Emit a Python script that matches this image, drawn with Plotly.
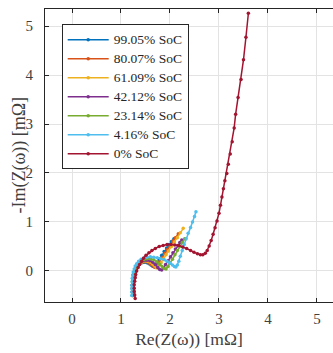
import plotly.graph_objects as go

# Nyquist spectra (Re / -Im in mOhm) at several states of charge
labels = ["99.05% SoC", "80.07% SoC", "61.09% SoC", "42.12% SoC",
          "23.14% SoC", "4.16% SoC", "0% SoC"]
colors = ["#0072BD", "#D95319", "#EDB120", "#7E2F8E", "#77AC30", "#4DBEEE", "#A2142F"]

re_9905 = [1.25, 1.25, 1.25, 1.25, 1.25, 1.26, 1.27, 1.29, 1.31, 1.34, 1.38, 1.43, 1.48, 1.53,
           1.57, 1.61, 1.64, 1.66, 1.69, 1.73, 1.78, 1.83, 1.88, 1.93, 1.98, 2.03, 2.08]
im_9905 = [-0.48, -0.41, -0.34, -0.27, -0.20, -0.13, -0.07, -0.01, 0.05, 0.10, 0.14, 0.17, 0.18, 0.17,
           0.15, 0.12, 0.10, 0.09, 0.11, 0.17, 0.24, 0.32, 0.40, 0.47, 0.54, 0.60, 0.66]

re_8007 = [1.25, 1.24, 1.24, 1.24, 1.25, 1.25, 1.26, 1.28, 1.30, 1.33, 1.37, 1.42, 1.47, 1.53,
           1.58, 1.62, 1.66, 1.68, 1.70, 1.74, 1.79, 1.84, 1.90, 1.95, 2.01, 2.06, 2.11, 2.17]
im_8007 = [-0.49, -0.42, -0.35, -0.28, -0.21, -0.14, -0.07, -0.01, 0.05, 0.10, 0.15, 0.18, 0.19, 0.19,
           0.16, 0.13, 0.10, 0.08, 0.07, 0.12, 0.19, 0.27, 0.36, 0.44, 0.53, 0.61, 0.68, 0.76]

re_6109 = [1.24, 1.24, 1.24, 1.24, 1.25, 1.25, 1.26, 1.28, 1.30, 1.33, 1.37, 1.42, 1.48, 1.54,
           1.60, 1.65, 1.69, 1.72, 1.74, 1.77, 1.82, 1.87, 1.92, 1.97, 2.03, 2.09, 2.15, 2.21, 2.27]
im_6109 = [-0.50, -0.43, -0.36, -0.29, -0.22, -0.15, -0.08, -0.02, 0.04, 0.10, 0.15, 0.18, 0.20, 0.20,
           0.18, 0.14, 0.10, 0.07, 0.06, 0.10, 0.17, 0.25, 0.33, 0.41, 0.50, 0.59, 0.68, 0.78, 0.87]

re_4212 = [1.24, 1.23, 1.23, 1.23, 1.24, 1.24, 1.25, 1.27, 1.29, 1.32, 1.36, 1.41, 1.47, 1.53,
           1.59, 1.65, 1.70, 1.75, 1.79, 1.83, 1.87, 1.91, 1.96, 2.01, 2.06, 2.11, 2.16, 2.20, 2.24]
im_4212 = [-0.50, -0.43, -0.36, -0.29, -0.22, -0.15, -0.08, -0.02, 0.04, 0.10, 0.15, 0.19, 0.21, 0.22,
           0.21, 0.18, 0.13, 0.07, 0.03, 0.02, 0.06, 0.13, 0.21, 0.29, 0.37, 0.45, 0.52, 0.58, 0.63]

re_2314 = [1.23, 1.23, 1.23, 1.23, 1.23, 1.24, 1.25, 1.27, 1.29, 1.32, 1.36, 1.41, 1.47, 1.53,
           1.60, 1.67, 1.73, 1.79, 1.84, 1.88, 1.92, 1.96, 2.00, 2.05, 2.10, 2.15, 2.20, 2.25, 2.30]
im_2314 = [-0.50, -0.43, -0.36, -0.29, -0.22, -0.15, -0.08, -0.02, 0.04, 0.10, 0.16, 0.20, 0.23, 0.25,
           0.25, 0.23, 0.19, 0.14, 0.09, 0.05, 0.04, 0.09, 0.16, 0.24, 0.33, 0.42, 0.50, 0.58, 0.66]

re_0416 = [1.22, 1.22, 1.22, 1.22, 1.23, 1.23, 1.24, 1.25, 1.27, 1.29, 1.32, 1.36, 1.41, 1.47,
           1.53, 1.60, 1.67, 1.74, 1.81, 1.88, 1.94, 2.00, 2.05, 2.09, 2.12, 2.15, 2.18, 2.21,
           2.25, 2.29, 2.33, 2.37, 2.42, 2.46, 2.50, 2.53]
im_0416 = [-0.50, -0.43, -0.36, -0.29, -0.22, -0.15, -0.08, -0.02, 0.04, 0.10, 0.15, 0.20, 0.24, 0.27,
           0.28, 0.29, 0.28, 0.27, 0.25, 0.23, 0.20, 0.16, 0.12, 0.09, 0.08, 0.12, 0.20, 0.30,
           0.42, 0.54, 0.66, 0.77, 0.89, 1.00, 1.11, 1.21]

re_0 = [1.29, 1.28, 1.27, 1.27, 1.27, 1.28, 1.29, 1.30, 1.32, 1.35, 1.38, 1.42, 1.46, 1.51,
        1.57, 1.63, 1.70, 1.78, 1.86, 1.94, 2.02, 2.10, 2.18, 2.26, 2.34, 2.42, 2.49, 2.56,
        2.62, 2.67, 2.72, 2.76, 2.80, 2.84, 2.88, 2.92, 2.96, 3.00, 3.03, 3.06, 3.09, 3.12,
        3.16, 3.19, 3.23, 3.27, 3.31, 3.34, 3.39, 3.45, 3.50, 3.55, 3.60]
im_0 = [-0.56, -0.49, -0.42, -0.35, -0.28, -0.21, -0.14, -0.07, 0.00, 0.07, 0.13, 0.20, 0.26, 0.32,
        0.37, 0.42, 0.46, 0.50, 0.52, 0.54, 0.54, 0.53, 0.52, 0.49, 0.46, 0.42, 0.38, 0.35,
        0.33, 0.33, 0.36, 0.42, 0.51, 0.62, 0.75, 0.88, 1.02, 1.18, 1.34, 1.51, 1.68, 1.84,
        1.99, 2.18, 2.39, 2.64, 2.92, 3.20, 3.54, 3.91, 4.31, 4.77, 5.26]

series_re = [re_9905, re_8007, re_6109, re_4212, re_2314, re_0416, re_0]
series_im = [im_9905, im_8007, im_6109, im_4212, im_2314, im_0416, im_0]

tick_vals = [0, 1, 2, 3, 4, 5]

serif = "Liberation Serif"
axis_col = "#262626"
text_col = "#404040"
grid_col = "#e3e3e3"

fig = go.Figure()
for name, col, xs, ys in zip(labels, colors, series_re, series_im):
    fig.add_trace(go.Scatter(
        x=xs, y=ys, mode="lines+markers",
        # legend rows stay compact (font 12) while the label itself is set at 13.5px
        name=f'<span style="font-size:13.5px">{name}</span>',
        line=dict(color=col, width=1.5),
        marker=dict(color=col, size=3.5),
    ))

fig.update_layout(
    width=333, height=353,
    margin=dict(l=45, r=0, t=9, b=51),
    plot_bgcolor="white", paper_bgcolor="white",
    font=dict(family=serif, color=axis_col, size=14),
    showlegend=True,
    legend=dict(
        x=0.058, y=0.948, xanchor="left", yanchor="top",
        bgcolor="white", bordercolor=axis_col, borderwidth=1,
        font=dict(family=serif, size=12, color=axis_col),
        itemwidth=41, tracegroupgap=0,
    ),
    xaxis=dict(
        range=[-0.551, 5.327], tickvals=tick_vals,
        showgrid=True, gridcolor=grid_col, gridwidth=1, zeroline=False,
        showline=True, linecolor=axis_col, linewidth=1, mirror="ticks",
        ticks="inside", ticklen=4, tickcolor=axis_col,
        ticklabelstandoff=3,
        tickfont=dict(family=serif, size=15, color=text_col),
        title=dict(text="Re(Z(\u03c9)) [m\u03a9]", font=dict(family=serif, size=17.5, color=text_col), standoff=6),
    ),
    yaxis=dict(
        range=[-0.633, 5.347], tickvals=tick_vals,
        showgrid=True, gridcolor=grid_col, gridwidth=1, zeroline=False,
        showline=True, linecolor=axis_col, linewidth=1, mirror=False,
        ticks="inside", ticklen=4, tickcolor=axis_col,
        ticklabelstandoff=8,
        tickfont=dict(family=serif, size=15, color=text_col),
    ),
    annotations=[dict(
        text="-Im(Z(\u03c9)) [m\u03a9]", textangle=-90,
        xref="paper", yref="paper", x=-0.090, y=0.5,
        xanchor="center", yanchor="middle", showarrow=False,
        font=dict(family=serif, size=18, color=text_col),
    )],
)

fig.write_html("out.html")
